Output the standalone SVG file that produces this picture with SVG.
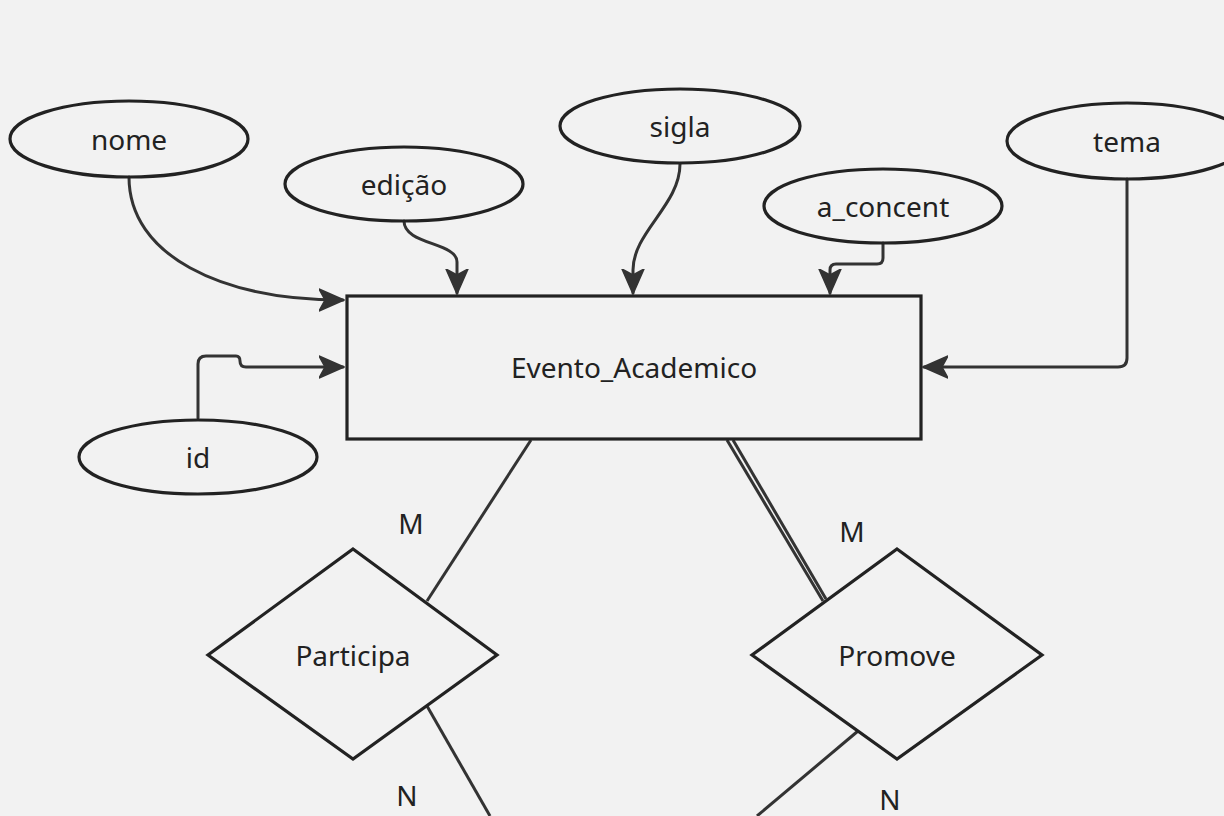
<svg xmlns="http://www.w3.org/2000/svg" width="1224" height="816" viewBox="0 0 1224 816">
<defs>
<marker id="arr" viewBox="0 0 26 26" refX="24" refY="13" markerWidth="26" markerHeight="26" markerUnits="userSpaceOnUse" orient="auto">
<path d="M0,2 L25,13 L0,24 L6,13 Z" fill="#333" stroke="#333" stroke-width="1.5" stroke-linejoin="round"/>
</marker>
<style>
.shape{fill:none;stroke:#222;stroke-width:3.2}
.conn{fill:none;stroke:#333;stroke-width:3;stroke-linecap:round;stroke-linejoin:round}
.line{fill:none;stroke:#333;stroke-width:3}
text{font-family:"Noto Sans","Open Sans","DejaVu Sans",sans-serif;font-size:28px;fill:#222;text-anchor:middle;dominant-baseline:central}
</style>
</defs>
<rect width="1224" height="816" fill="#f2f2f2"/>
<g id="connectors">
<path class="conn" d="M129,177 C129,255 220,300 343,300" marker-end="url(#arr)"/>
<path class="conn" d="M404,221 C404,245 457,242 457,262 L457,293" marker-end="url(#arr)"/>
<path class="conn" d="M680,164 C680,205 633,232 633,270 L633,293" marker-end="url(#arr)"/>
<path class="conn" d="M883,243 L883,258 Q883,264 877,264 L836,264 Q830,264 830,270 L830,293" marker-end="url(#arr)"/>
<path class="conn" d="M1127,179 L1127,358 Q1127,367 1118,367 L924,367" marker-end="url(#arr)"/>
<path class="conn" d="M198,418 L198,364 Q198,356 206,356 L236,356 Q240,356 240,361 Q240,367 246,367 L343,367" marker-end="url(#arr)"/>
<line class="line" x1="531" y1="440" x2="427" y2="601"/>
<line class="line" x1="727" y1="440" x2="823" y2="601"/>
<line class="line" x1="733" y1="440" x2="826" y2="599"/>
<line class="line" x1="427" y1="706" x2="490" y2="816"/>
<line class="line" x1="858" y1="731" x2="757" y2="816"/>
</g>
<g id="Evento_Academico">
<rect class="shape" x="347" y="296" width="574" height="143"/>
<text x="634" y="367">Evento_Academico</text>
</g>
<g id="nome"><ellipse class="shape" cx="129" cy="139" rx="119" ry="38"/><text x="129" y="139">nome</text></g>
<g id="edicao"><ellipse class="shape" cx="404" cy="184" rx="119" ry="37"/><text x="404" y="184">edição</text></g>
<g id="sigla"><ellipse class="shape" cx="680" cy="126" rx="120" ry="37"/><text x="680" y="126">sigla</text></g>
<g id="a_concent"><ellipse class="shape" cx="883" cy="206" rx="119" ry="37"/><text x="883" y="206">a_concent</text></g>
<g id="tema"><ellipse class="shape" cx="1127" cy="141" rx="120" ry="38"/><text x="1127" y="141">tema</text></g>
<g id="id"><ellipse class="shape" cx="198" cy="457" rx="119" ry="37"/><text x="198" y="457">id</text></g>
<g id="Participa"><polygon class="shape" points="353,549 497,655 353,759 208,655"/><text x="353" y="655">Participa</text></g>
<g id="Promove"><polygon class="shape" points="897,549 1042,655 897,759 752,655"/><text x="897" y="655">Promove</text></g>
<g id="labels">
<text x="411" y="523">M</text>
<text x="852" y="531">M</text>
<text x="407" y="795">N</text>
<text x="890" y="799">N</text>
</g>
</svg>
